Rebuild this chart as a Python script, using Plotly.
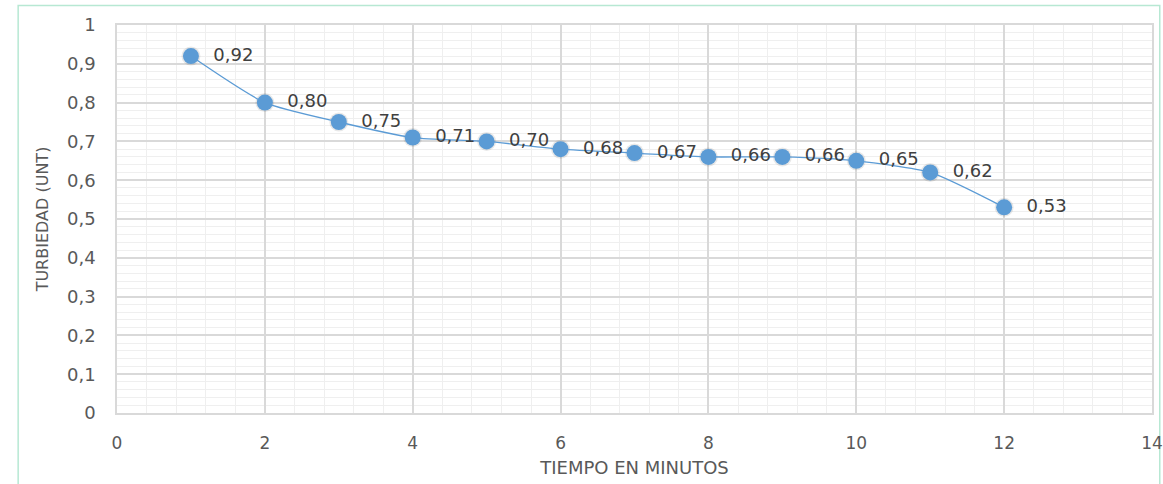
import plotly.graph_objects as go

# Turbidity readings over time
tiempo = [1, 2, 3, 4, 5, 6, 7, 8, 9, 10, 11, 12]
turbiedad = [0.92, 0.80, 0.75, 0.71, 0.70, 0.68, 0.67, 0.66, 0.66, 0.65, 0.62, 0.53]

gray_text = "#595959"
blue = "#5b9bd5"
font_family = "DejaVu Sans"

fig = go.Figure()

# soft shadow under the markers
fig.add_trace(go.Scatter(
    x=tiempo, y=turbiedad, mode="markers",
    marker=dict(size=19, color="rgba(0,0,0,0.09)", line=dict(width=0)),
    hoverinfo="skip", showlegend=False,
))

fig.add_trace(go.Scatter(
    x=tiempo, y=turbiedad,
    mode="lines+markers+text",
    line=dict(color=blue, width=1.3, shape="spline", smoothing=0.6),
    marker=dict(size=16, color=blue, line=dict(width=0)),
    texttemplate="  %{y:.2f}",
    textposition="middle right",
    textfont=dict(size=18, color="#404040", family=font_family),
    showlegend=False,
))

fig.update_layout(
    width=1163, height=484,
    margin=dict(l=117, r=11, t=25, b=71),
    paper_bgcolor="white",
    plot_bgcolor="white",
    separators=",.",
    font=dict(family=font_family, color=gray_text, size=15),
    shapes=[dict(type="rect", xref="paper", yref="paper",
                 x0=-0.0955, x1=1.0075, y0=-0.185, y1=1.05,
                 line=dict(color="#b7e8d3", width=1.5), layer="below")],
)

fig.update_xaxes(
    range=[0, 14], dtick=2, tick0=0, automargin=False,
    showgrid=True, gridcolor="#d9d9d9", gridwidth=1.5,
    minor=dict(dtick=0.4, tick0=0, showgrid=True, gridcolor="#efefef", gridwidth=1.2),
    showline=True, linecolor="#d9d9d9", linewidth=1.5, mirror=True,
    zeroline=False, ticks="",
    ticklabelstandoff=14,
    tickfont=dict(size=17, color=gray_text),
    title=dict(text="TIEMPO EN MINUTOS", font=dict(size=18, color=gray_text), standoff=9),
)

fig.update_yaxes(
    range=[0, 1], dtick=0.1, tick0=0, automargin=False,
    showgrid=True, gridcolor="#d9d9d9", gridwidth=1.5,
    minor=dict(dtick=0.02, tick0=0, showgrid=True, gridcolor="#efefef", gridwidth=1.2),
    showline=True, linecolor="#d9d9d9", linewidth=1.5, mirror=True,
    zeroline=False, ticks="",
    ticklabelstandoff=16,
    tickfont=dict(size=18, color=gray_text),
    title=dict(text="TURBIEDAD (UNT)", font=dict(size=16, color=gray_text), standoff=14),
)

fig.write_html("out.html")
